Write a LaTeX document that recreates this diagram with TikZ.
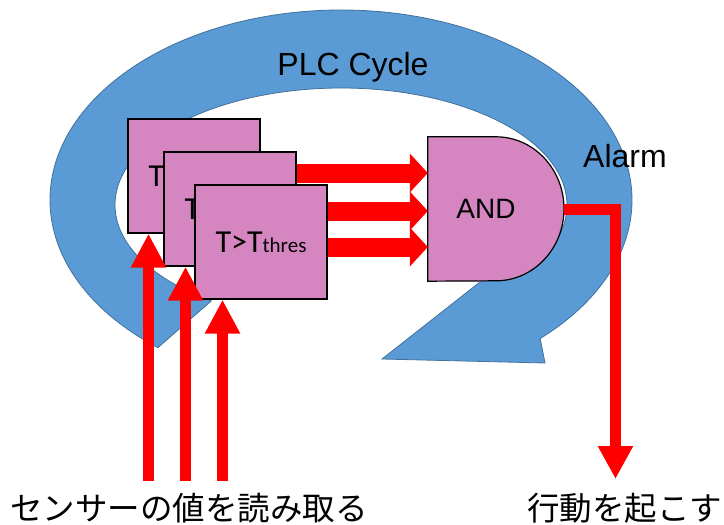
\documentclass[tikz,border=0pt]{standalone}
\usepackage{fontspec}
\setmainfont{Liberation Sans}
\newfontfamily\calibri{Carlito}
\newfontfamily\jpfont{Noto Sans CJK JP}
\usetikzlibrary{arrows.meta}
\definecolor{cycleblue}{RGB}{91,155,213}
\definecolor{cycleedge}{RGB}{65,113,156}
\definecolor{orchid}{RGB}{213,134,192}

\begin{document}
\begin{tikzpicture}[x=1pt, y=-1pt,
    tbox/.style={draw, line width=1.2pt, fill=orchid, minimum width=132pt, minimum height=114pt,
      inner sep=0pt, font=\calibri\fontsize{32}{38}\selectfont},
    linkarrow/.style={red, line width=19pt, -{Triangle[width=38pt,length=18pt]}},
    inarrow/.style={red, line width=11pt, -{Triangle[width=33pt,length=34pt]}},
    outarrow/.style={red, line width=11pt, line join=miter, -{Triangle[width=33pt,length=33pt]}},
    bigtext/.style={font=\fontsize{32}{38}\selectfont, inner sep=0pt},
    jptext/.style={font=\jpfont\fontsize{32.5}{38}\selectfont, inner sep=0pt}]
  \useasboundingbox (0,0) rectangle (724,525);

  % cycle arrow (y points down, so angles run clockwise)
  \filldraw[fill=cycleblue, draw=cycleedge, line width=0.8pt]
    ([shift={(341,200)}]129:291 and 190) arc[start angle=129, end angle=406.8, x radius=291, y radius=190]
    -- (545,363) -- (382,359) -- (480,282)
    -- ([shift={(341,205)}]35:226 and 117) arc[start angle=395, end angle=125, x radius=226, y radius=117]
    -- cycle;
  \node[bigtext, anchor=base] (cycle) at (353,75) {PLC Cycle};

  % threshold checks
  \node[tbox] (boxA) at (194,176) {T>T{\fontsize{21}{24}\selectfont thres}};
  \node[tbox] (boxB) at (230,209) {T>T{\fontsize{21}{24}\selectfont thres}};
  \node[tbox] (boxC) at (261,242) {T>T{\fontsize{21}{24}\selectfont thres}};

  % AND gate
  \node[minimum width=136pt, minimum height=144pt, inner sep=0pt] (gate) at (496,209) {};
  \filldraw[fill=orchid, line width=1.2pt] (gate.north west) -- (gate.north)
    arc[start angle=-90, end angle=90, x radius=68, y radius=72] -- (gate.south west) -- cycle;
  \node[font=\fontsize{28}{34}\selectfont] (gatelabel) at ([xshift=-10pt]gate.center) {AND};

  \draw[linkarrow] ([yshift=36pt]boxB.east) coordinate (l1) -- (l1 -| gate.west);
  \draw[linkarrow] ([yshift=31pt]boxC.east) coordinate (l2) -- (l2 -| gate.west);
  \draw[linkarrow] ([yshift=-5pt]boxC.east) coordinate (l3) -- (l3 -| gate.west);

  % sensor inputs
  \coordinate (inA) at (148.5,481);
  \coordinate (inB) at (185.5,481);
  \coordinate (inC) at (222.5,481);
  \draw[inarrow] (inA) -- (inA |- boxA.south);
  \draw[inarrow] (inB) -- (inB |- boxB.south);
  \draw[inarrow] (inC) -- (inC |- boxC.south);

  % alarm output
  \coordinate (act) at (615.5,479);
  \draw[outarrow] (gate.east) -| (act);
  \node[bigtext, anchor=base west] (alarm) at (583,167) {Alarm};

  \node[jptext, anchor=base west] (sense) at (10,520) {センサーの値を読み取る};
  \node[jptext, anchor=base west] (acttext) at (527,520) {行動を起こす};
\end{tikzpicture}
\end{document}
